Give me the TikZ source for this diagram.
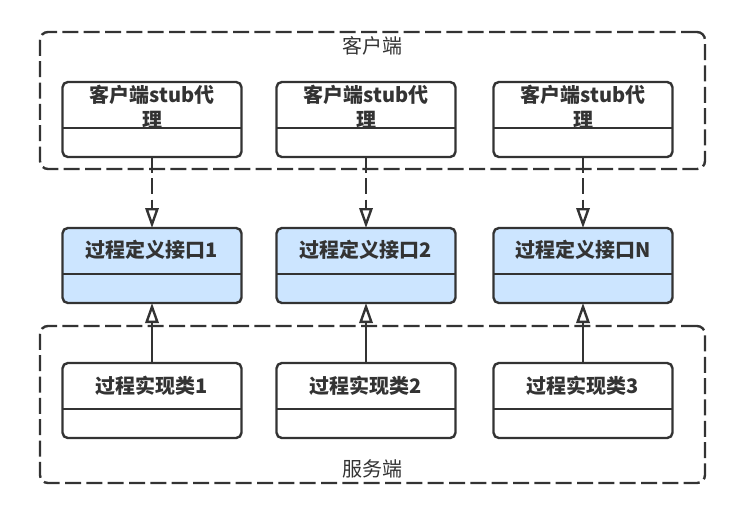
\documentclass[tikz,border=0pt]{standalone}
\usepackage{fontspec}
\setmainfont{Noto Sans CJK SC}
\usepackage{tikz}
\usetikzlibrary{arrows.meta}
\definecolor{linegray}{HTML}{333333}
\definecolor{ifaceblue}{HTML}{CCE5FF}
\tikzset{
    classbox/.style={draw=linegray, line width=1.8pt, rounded corners=4pt, fill=white,
        minimum width=134.25pt, minimum height=56.25pt, inner sep=0pt, outer sep=0pt},
    iface/.style={classbox, fill=ifaceblue},
    classname/.style={text=linegray, font=\fontsize{15}{18.75}\selectfont\bfseries,
        align=center, inner sep=0pt},
    frame/.style={draw=linegray, line width=1.8pt, dash pattern=on 12pt off 4pt,
        rounded corners=6pt, minimum width=498.75pt, inner sep=0pt, outer sep=0pt},
    framelabel/.style={text=linegray, font=\fontsize{15}{18}\selectfont, inner sep=0pt},
    uses/.style={draw=linegray, line width=1.8pt, dash pattern=on 12pt off 4pt,
        -{Triangle[open, length=15pt, width=10pt, fill=white]}},
    implements/.style={draw=linegray, line width=1.8pt,
        -{Triangle[open, length=15pt, width=10pt, fill=white]}},
}
% class box: name, x centre, top, text offset, style, text
\newcommand{\umlclass}[6]{
    \node[#5, anchor=north] (#1) at (#2,#3) {};
    \node[classname] (#1-name) at (#2,#3+#4) {#6};
    \draw[draw=linegray, line width=1.8pt] ([yshift=-34.5pt]#1.north west) -- ([yshift=-34.5pt]#1.north east);
}

\begin{document}
\begin{tikzpicture}[x=0.75pt, y=-0.75pt]
\useasboundingbox (0,0) rectangle (755,531);
% dashed frames
\node[frame, minimum height=102.75pt] (client) at (372.5,100.5) {};
\node[frame, minimum height=117.75pt] (server) at (372.5,404.5) {};
\node[framelabel] (clientlabel) at (372,46) {客户端};
\node[framelabel] (serverlabel) at (372,469) {服务端};

\umlclass{stub1}{152}{82}{25}{classbox}{客户端stub代\\理}
\umlclass{stub2}{366}{82}{25}{classbox}{客户端stub代\\理}
\umlclass{stub3}{583}{82}{25}{classbox}{客户端stub代\\理}

\umlclass{iface1}{152}{228}{22}{iface}{过程定义接口1}
\umlclass{iface2}{366}{228}{22}{iface}{过程定义接口2}
\umlclass{iface3}{583}{228}{22}{iface}{过程定义接口N}

\umlclass{impl1}{152}{363}{23}{classbox}{过程实现类1}
\umlclass{impl2}{366}{363}{23}{classbox}{过程实现类2}
\umlclass{impl3}{583}{363}{23}{classbox}{过程实现类3}

\foreach \i in {1,2,3} {
    \draw[uses] (stub\i) -- (iface\i);
    \draw[implements] (impl\i) -- (iface\i);
}
\end{tikzpicture}
\end{document}
